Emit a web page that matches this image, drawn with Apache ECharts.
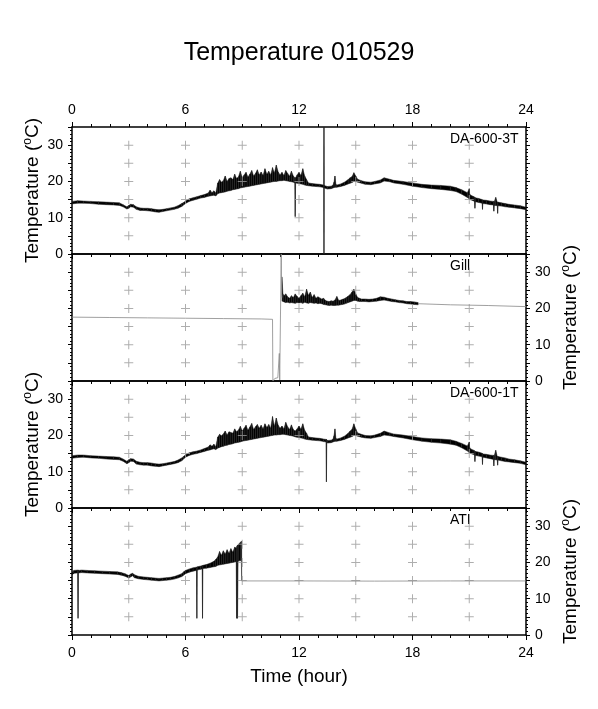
<!DOCTYPE html>
<html lang="en">
  <head>
    <meta charset="UTF-8" />
    <title>Temperature 010529</title>
    <script src="https://cdn.jsdelivr.net/npm/echarts@6/dist/echarts.min.js"></script>
    <style>
      html, body { margin: 0; background: #fff; }
    </style>
  </head>
  <body>
    <div id="main" style="width: 598px; height: 709px"></div>
    <script type="text/javascript">
      // axis ticks and grid crosses
      const hourTicks = [0, 6, 12, 18, 24];
      const tempTicks = [0, 10, 20, 30];
      const crossX = [3, 6, 9, 12, 15, 18, 21];
      const crossY = [5, 10, 15, 20, 25, 30];
      const panelNames = ["DA-600-3T", "Gill", "DA-600-1T", "ATI"];

      // DA-600-3T: time (hour), lower and upper edge of the noisy trace
      const da3T = [
        0, 0.3, 0.6, 1.0, 1.4, 1.8, 2.2, 2.5, 2.7, 2.9, 3.0, 3.1, 3.25, 3.4, 3.6, 3.8, 4.0, 4.2, 4.4, 4.6,
        4.8, 5.0, 5.2, 5.4, 5.6, 5.8, 5.9, 6.0, 6.2, 6.4, 6.6, 6.8, 7.0, 7.2, 7.3, 7.4, 7.5, 7.6,
        7.7, 7.8, 7.9, 8.0, 8.1, 8.2, 8.3, 8.4, 8.5, 8.6, 8.7, 8.8, 8.9, 9.0, 9.1, 9.2, 9.3, 9.4, 9.5, 9.6,
        9.7, 9.8, 9.9, 10.0, 10.1, 10.2, 10.3, 10.4, 10.5, 10.6, 10.7, 10.8, 10.9, 11.0, 11.1, 11.2, 11.3, 11.4, 11.5, 11.6,
        11.7, 11.78, 11.8, 11.82, 11.9, 12.0, 12.1, 12.2, 12.3, 12.4,
        12.5, 12.7, 12.9, 13.1, 13.3, 13.31, 13.32, 13.33, 13.5, 13.7, 13.8, 13.85, 13.9, 13.95, 14.0, 14.2, 14.4, 14.6, 14.7, 14.8,
        14.9, 15.0, 15.1, 15.3, 15.5, 15.8, 16.0, 16.3, 16.5, 16.8, 17.0, 17.5, 18.0, 18.5, 19.0, 19.5, 20.0, 20.3, 20.6,
        20.9, 21.0, 21.02, 21.04, 21.2, 21.28, 21.3, 21.32, 21.5, 21.68, 21.7, 21.72, 21.9, 22.1, 22.28, 22.3, 22.32, 22.4,
        22.48, 22.5, 22.52, 22.7, 22.9, 23.1, 23.4, 23.7, 24.0
      ];
      const da3Lo = [
        13.8, 14.0, 14.0, 13.9, 13.7, 13.6, 13.5, 13.4, 13.0, 12.4, 12.6, 13.0, 12.9, 12.3, 12.0, 12.0, 11.9, 11.8, 11.6, 11.5,
        11.7, 11.9, 12.1, 12.3, 12.6, 13.1, 13.5, 13.9, 14.5, 14.8, 15.1, 15.4, 15.6, 15.9, 16.0, 16.1, 16.2, 16.0,
        16.6, 16.8, 16.9, 17.0, 17.1, 17.3, 17.4, 17.5, 17.7, 17.8, 17.9, 18.0, 18.2, 18.3, 18.4, 18.5, 18.6, 18.7, 18.8, 18.9,
        19.0, 19.1, 19.2, 19.3, 19.4, 19.5, 19.6, 19.7, 19.8, 19.9, 20.0, 20.0, 20.1, 20.2, 20.2, 20.3, 20.2, 20.1, 20.0, 19.9,
        19.8, 19.6, 10.3, 19.6, 19.5, 19.4, 19.3, 19.2, 19.0, 18.9,
        18.8, 18.7, 18.6, 18.5, 18.3, 18.3, 0, 18.2, 17.9, 18.0, 18.2, 18.3, 18.4, 18.4, 18.4, 18.6, 18.9, 19.3, 19.5, 19.7,
        20.0, 20.0, 19.8, 19.5, 19.2, 19.1, 19.3, 19.6, 20.1, 19.9, 19.6, 19.2, 18.7, 18.3, 18.0, 17.8, 17.5, 17.2, 16.5,
        15.6, 15.2, 15.1, 15.0, 14.7, 14.5, 12.6, 14.4, 14.2, 14.0, 12.3, 13.9, 13.8, 13.6, 13.5, 11.8, 13.4, 13.4,
        13.3, 11.2, 13.3, 13.2, 13.0, 12.9, 12.7, 12.5, 12.2
      ];
      const da3Hi = [
        14.5, 14.7, 14.6, 14.5, 14.4, 14.3, 14.2, 14.1, 13.6, 13.0, 13.4, 13.7, 13.6, 13.0, 12.7, 12.6, 12.6, 12.5, 12.3, 12.2,
        12.3, 12.5, 12.7, 12.9, 13.3, 13.9, 14.2, 14.6, 15.2, 15.5, 15.8, 16.1, 16.4, 16.8, 17.6, 16.9, 17.4, 16.8,
        19.5, 20.5, 19.8, 20.2, 21.5, 20.0, 20.8, 21.0, 20.5, 22.0, 20.8, 21.3, 22.8, 21.0, 21.8, 22.5, 21.2, 22.0, 23.0, 21.5,
        22.2, 23.2, 21.8, 22.6, 21.6, 23.5, 22.0, 22.8, 21.8, 23.8, 22.3, 24.5, 22.6, 21.8, 22.5, 21.6, 23.0, 22.2, 21.4, 22.8,
        21.5, 21.0, 21.0, 21.0, 21.8, 22.5, 21.6, 23.5, 21.5, 20.5,
        19.6, 19.4, 19.3, 19.2, 19.0, 19.0, 35, 18.9, 18.6, 18.7, 19.0, 19.8, 21.5, 19.2, 19.0, 19.3, 19.8, 20.5, 21.0, 21.3,
        22.4, 21.5, 20.6, 20.2, 19.9, 19.8, 20.0, 20.4, 21.0, 20.6, 20.3, 20.0, 19.6, 19.2, 19.0, 18.9, 18.7, 18.3, 17.7,
        16.9, 18.0, 16.6, 16.3, 15.9, 15.7, 15.6, 15.5, 15.3, 15.0, 14.9, 14.9, 14.8, 14.6, 14.5, 14.5, 14.4, 15.6,
        14.3, 14.3, 14.3, 14.1, 13.9, 13.7, 13.5, 13.3, 12.9
      ];

      // Gill: flat early record, noisy middle, thin tail
      const gillFlatT = [0, 2, 4, 6, 8, 10, 10.6, 10.62, 10.66, 10.72, 10.8, 10.88, 10.94, 10.96, 10.98, 11.02, 11.06, 11.08, 11.1];
      const gillFlatV = [17.6, 17.5, 17.4, 17.3, 17.2, 17.1, 17.0, 0, 0.2, 0.7, 1.0, 0.9, 0.5, 7.6, 0.3, 0, 35, 24, 23];
      const gillT = [
        11.1, 11.15, 11.2, 11.3, 11.4, 11.5, 11.6, 11.7, 11.8, 11.9, 12.0, 12.1, 12.2, 12.3, 12.4, 12.5, 12.6, 12.7, 12.8, 12.9,
        13.0, 13.1, 13.2, 13.3, 13.4, 13.5, 13.6, 13.7, 13.8, 13.9, 14.0, 14.1, 14.2, 14.3, 14.4, 14.5, 14.6, 14.7, 14.8, 14.9,
        15.0, 15.1, 15.2, 15.3, 15.5, 15.7, 15.9, 16.1, 16.3, 16.5, 16.7, 16.9, 17.1, 17.3, 17.5, 17.7, 17.9, 18.1, 18.3
      ];
      const gillLo = [
        22.0, 22.0, 21.8, 21.6, 21.7, 21.5, 21.6, 21.5, 21.4, 21.6, 21.5, 21.6, 21.4, 21.7, 21.5, 21.4, 21.6, 21.5, 21.4, 21.5,
        21.3, 21.4, 21.3, 21.1, 21.0, 20.9, 20.8, 20.9, 20.8, 20.8, 20.9, 20.9, 21.0, 21.1, 21.2, 21.4, 21.6, 21.8, 22.0, 22.2,
        22.2, 22.0, 21.9, 21.9, 21.9, 21.8, 21.9, 22.0, 22.2, 22.3, 22.1, 21.9, 21.8, 21.6, 21.5, 21.3, 21.2, 21.1, 21.0
      ];
      const gillHi = [
        28.7, 24.0, 23.5, 24.0, 23.2, 22.8, 23.5, 23.0, 24.0, 23.3, 22.8, 23.5, 24.2, 23.2, 25.3, 23.6, 24.5, 23.0, 23.8, 22.8,
        23.2, 22.9, 22.6, 22.8, 22.2, 22.0, 21.9, 22.1, 22.0, 22.3, 23.3, 22.2, 22.3, 22.5, 22.7, 23.0, 23.4, 23.8, 24.5, 25.3,
        24.0, 23.0, 22.8, 22.6, 22.6, 22.5, 22.6, 22.8, 23.2, 23.1, 22.8, 22.6, 22.4, 22.2, 22.1, 21.9, 21.9, 21.8, 21.6
      ];
      const gillTailT = [18.3, 20, 22, 24];
      const gillTailV = [21.3, 21.0, 20.8, 20.5];

      // DA-600-1T
      const da1T = [
        0, 0.3, 0.6, 1.0, 1.4, 1.8, 2.2, 2.5, 2.7, 2.9, 3.0, 3.1, 3.25, 3.4, 3.6, 3.8, 4.0, 4.2, 4.4, 4.6,
        4.8, 5.0, 5.2, 5.4, 5.6, 5.8, 5.9, 6.0, 6.2, 6.4, 6.6, 6.8, 7.0, 7.2, 7.3, 7.4, 7.5, 7.6,
        7.7, 7.8, 7.9, 8.0, 8.1, 8.2, 8.3, 8.4, 8.5, 8.6, 8.7, 8.8, 8.9, 9.0, 9.1, 9.2, 9.3, 9.4, 9.5, 9.6,
        9.7, 9.8, 9.9, 10.0, 10.1, 10.2, 10.3, 10.4, 10.5, 10.6, 10.7, 10.8, 10.9, 11.0, 11.1, 11.2, 11.3, 11.4, 11.5, 11.6,
        11.7, 11.8, 11.9, 12.0, 12.1, 12.2, 12.3, 12.4,
        12.5, 12.7, 12.9, 13.1, 13.3, 13.43, 13.45, 13.47, 13.5, 13.7, 13.8, 13.85, 13.9, 13.95, 14.0, 14.2, 14.4, 14.6, 14.7, 14.8,
        14.9, 15.0, 15.1, 15.3, 15.5, 15.8, 16.0, 16.3, 16.5, 16.8, 17.0, 17.5, 18.0, 18.5, 19.0, 19.5, 20.0, 20.3, 20.6,
        20.9, 21.0, 21.02, 21.04, 21.2, 21.28, 21.3, 21.32, 21.5, 21.68, 21.7, 21.72, 21.9, 22.1, 22.28, 22.3, 22.32, 22.4,
        22.48, 22.5, 22.52, 22.7, 22.9, 23.1, 23.4, 23.7, 24.0
      ];
      const da1Lo = [
        13.7, 13.9, 14.0, 13.8, 13.7, 13.5, 13.4, 13.3, 12.9, 12.2, 12.5, 12.9, 12.8, 12.1, 11.9, 11.8, 11.8, 11.6, 11.5, 11.4,
        11.6, 11.8, 12.0, 12.2, 12.5, 13.0, 13.5, 14.0, 14.5, 14.8, 15.0, 15.3, 15.6, 15.9, 16.0, 16.2, 16.3, 16.1,
        16.5, 16.7, 16.9, 17.0, 17.2, 17.3, 17.5, 17.6, 17.7, 17.9, 18.0, 18.1, 18.2, 18.4, 18.5, 18.6, 18.7, 18.8, 18.9, 19.0,
        19.1, 19.2, 19.3, 19.4, 19.5, 19.6, 19.7, 19.8, 19.9, 20.0, 20.1, 20.1, 20.2, 20.2, 20.3, 20.3, 20.2, 20.1, 20.0, 19.9,
        19.8, 19.6, 19.5, 19.4, 19.3, 19.2, 19.0, 18.9,
        18.8, 18.7, 18.6, 18.5, 18.3, 18.2, 7.2, 18.1, 17.9, 18.0, 18.2, 18.3, 18.4, 18.4, 18.4, 18.6, 18.9, 19.3, 19.5, 19.7,
        20.0, 20.0, 19.8, 19.5, 19.3, 19.2, 19.4, 19.7, 20.1, 19.9, 19.7, 19.3, 18.8, 18.4, 18.1, 17.9, 17.6, 17.3, 16.6,
        15.7, 15.3, 15.2, 15.1, 14.8, 14.6, 12.8, 14.5, 14.3, 14.1, 12.0, 14.0, 13.8, 13.6, 13.4, 11.6, 13.3, 13.3,
        13.2, 11.8, 13.2, 13.0, 12.8, 12.7, 12.5, 12.3, 11.9
      ];
      const da1Hi = [
        14.4, 14.6, 14.6, 14.4, 14.3, 14.2, 14.1, 14.0, 13.5, 12.9, 13.3, 13.6, 13.5, 12.9, 12.6, 12.5, 12.5, 12.4, 12.2, 12.1,
        12.2, 12.4, 12.6, 12.8, 13.2, 13.8, 14.2, 14.7, 15.2, 15.5, 15.7, 16.0, 16.4, 16.8, 17.4, 17.0, 17.6, 16.9,
        19.5, 20.3, 19.9, 20.4, 21.2, 20.1, 21.0, 20.8, 20.6, 21.8, 21.0, 21.5, 22.5, 21.2, 22.0, 22.8, 21.4, 22.3, 23.3, 21.6,
        22.4, 23.0, 22.0, 22.8, 21.8, 23.2, 22.2, 23.0, 22.0, 25.2, 22.5, 24.8, 22.8, 22.0, 22.6, 21.8, 23.6, 22.4, 21.6, 22.9,
        21.6, 21.2, 21.8, 22.6, 21.7, 23.2, 21.4, 20.6,
        19.6, 19.4, 19.3, 19.2, 19.0, 18.9, 18.9, 18.8, 18.6, 18.7, 19.0, 19.9, 21.8, 19.2, 19.0, 19.3, 19.8, 20.6, 21.2, 21.6,
        23.2, 21.8, 20.7, 20.3, 20.0, 19.9, 20.1, 20.6, 21.2, 20.7, 20.4, 20.1, 19.7, 19.3, 19.1, 19.0, 18.8, 18.4, 17.8,
        17.1, 18.2, 16.7, 16.4, 16.0, 15.8, 15.7, 15.6, 15.4, 15.1, 15.0, 14.9, 14.8, 14.6, 14.5, 14.5, 14.4, 15.9,
        14.2, 14.2, 14.2, 14.0, 13.8, 13.5, 13.3, 13.0, 12.6
      ];

      // ATI: record until ~9 h, then a flat value
      const atiT = [
        0, 0.1, 0.3, 0.32, 0.34, 0.36, 0.5, 0.8, 1.2, 1.6, 2.0, 2.4, 2.6, 2.8, 3.0, 3.1, 3.2, 3.3, 3.5, 3.8,
        4.0, 4.2, 4.4, 4.6, 4.8, 5.0, 5.2, 5.4, 5.6, 5.8, 5.9, 6.0, 6.2, 6.4, 6.58, 6.6, 6.62, 6.8, 6.88, 6.9,
        6.92, 7.1, 7.3, 7.5, 7.6, 7.7, 7.8, 7.9, 8.0, 8.1, 8.2, 8.3, 8.4, 8.5, 8.6, 8.68, 8.7, 8.72, 8.75, 8.78,
        8.8, 8.9, 8.95, 8.97
      ];
      const atiLo = [
        16.5, 17.0, 17.1, 4.6, 17.1, 17.1, 17.2, 17.1, 17.0, 16.9, 16.8, 16.7, 16.5, 16.2, 15.7, 16.0, 16.3, 15.8, 15.5, 15.3,
        15.2, 15.1, 15.0, 14.9, 15.0, 15.1, 15.2, 15.4, 15.7, 16.1, 16.5, 16.9, 17.3, 17.6, 17.8, 4.6, 17.9, 18.1, 18.2, 4.6,
        18.3, 18.4, 18.6, 18.8, 18.9, 19.2, 19.3, 19.4, 19.5, 19.6, 19.7, 19.8, 19.9, 20.0, 20.1, 20.2, 4.6, 20.3, 4.6, 20.3,
        20.4, 20.5, 20.6, 14.9
      ];
      const atiHi = [
        17.3, 17.8, 17.9, 17.9, 17.9, 17.8, 17.9, 17.8, 17.7, 17.6, 17.5, 17.4, 17.2, 16.9, 16.4, 16.8, 17.0, 16.6, 16.2, 16.0,
        15.9, 15.8, 15.7, 15.6, 15.7, 15.8, 15.9, 16.1, 16.5, 16.9, 17.4, 17.8, 18.2, 18.5, 18.7, 18.7, 18.8, 19.0, 19.1, 19.1,
        19.2, 19.4, 19.8, 20.3, 20.8, 21.5, 23.0, 22.0, 23.2, 22.3, 23.5, 22.5, 23.8, 22.8, 24.2, 24.0, 24.0, 24.5, 24.8, 24.5,
        25.0, 25.5, 25.8, 25.8
      ];
      const atiTailT = [8.97, 12, 16, 20, 24];
      const atiTailV = [14.9, 14.9, 14.85, 14.9, 14.9];

      const font = "'Liberation Sans', Helvetica, Arial, sans-serif";
      const tops = [127, 254, 381, 508];
      const panelH = 127;

      // one quad per segment between two samples of the lower/upper edge
      function bandData(t, lo, hi) {
        const out = [];
        const n = Math.min(t.length, lo.length, hi.length);
        for (let i = 0; i < n - 1; i++) {
          out.push([t[i], lo[i], hi[i], t[i + 1], lo[i + 1], hi[i + 1]]);
        }
        return out;
      }
      function renderBand(params, api) {
        const a = api.coord([api.value(0), api.value(2)]);
        const b = api.coord([api.value(3), api.value(5)]);
        const c = api.coord([api.value(3), api.value(4)]);
        const d = api.coord([api.value(0), api.value(1)]);
        return {
          type: "polygon",
          shape: { points: [a, b, c, d] },
          style: { fill: "#000", stroke: "#222", lineWidth: 0.5 },
        };
      }
      function band(grid, t, lo, hi) {
        return {
          type: "custom",
          xAxisIndex: grid * 2,
          yAxisIndex: grid * 2,
          renderItem: renderBand,
          data: bandData(t, lo, hi),
          encode: { x: [0, 3], y: [1, 2, 4, 5] },
          clip: true,
          silent: true,
          animation: false,
        };
      }
      function thinLine(grid, t, v) {
        return {
          type: "line",
          xAxisIndex: grid * 2,
          yAxisIndex: grid * 2,
          data: t.map((x, i) => [x, v[i]]),
          showSymbol: false,
          lineStyle: { color: "#888", width: 0.8 },
          silent: true,
          animation: false,
        };
      }

      const crossData = [];
      for (const x of crossX) for (const y of crossY) crossData.push([x, y]);

      const grids = [];
      const xAxes = [];
      const yAxes = [];
      const series = [];
      const tempName = "Temperature ({sup|o}C)";

      for (let i = 0; i < 4; i++) {
        grids.push({ left: 72, right: 72, top: tops[i], height: panelH, outerBoundsMode: "none" });

        ["bottom", "top"].forEach((pos) => {
          const labelled = (pos === "top" && i === 0) || (pos === "bottom" && i === 3);
          const ticks = pos === "bottom" || i === 0;
          xAxes.push({
            type: "value",
            gridIndex: i,
            position: pos,
            min: 0,
            max: 24,
            interval: 6,
            axisLine: { show: true, onZero: false, lineStyle: { color: "#000", width: 1.5 } },
            axisTick: { show: ticks, length: 5, lineStyle: { color: "#000", width: 1 } },
            minorTick: { show: ticks, splitNumber: 6, length: 3, lineStyle: { color: "#000", width: 1 } },
            splitLine: { show: false },
            axisLabel: {
              show: labelled,
              color: "#000",
              fontSize: 14,
              fontFamily: font,
              margin: pos === "top" ? 10 : 11,
              formatter: (v) => (hourTicks.includes(v) ? String(v) : ""),
            },
            name: pos === "bottom" && i === 3 ? "Time (hour)" : "",
            nameLocation: "middle",
            nameGap: 32,
            nameTextStyle: { color: "#000", fontSize: 19, fontFamily: font },
          });
        });

        ["left", "right"].forEach((pos) => {
          const labelled = (pos === "left") === (i % 2 === 0);
          yAxes.push({
            type: "value",
            gridIndex: i,
            position: pos,
            min: 0,
            max: 35,
            interval: 5,
            axisLine: { show: true, onZero: false, lineStyle: { color: "#000", width: 1.5 } },
            axisTick: { show: true, length: 4, lineStyle: { color: "#000", width: 1 } },
            minorTick: { show: true, splitNumber: 5, length: 2, lineStyle: { color: "#000", width: 1 } },
            splitLine: { show: false },
            axisLabel: {
              show: labelled,
              color: "#000",
              fontSize: 14,
              fontFamily: font,
              margin: 9,
              showMaxLabel: false,
              formatter: (v) => (tempTicks.includes(v) ? String(v) : ""),
            },
            name: labelled ? tempName : "",
            nameLocation: "middle",
            nameRotate: 90,
            nameMoveOverlap: false,
            nameGap: pos === "left" ? 29 : 34,
            nameTextStyle: {
              color: "#000",
              fontSize: 19,
              fontFamily: font,
              rich: { sup: { fontSize: 12, fontFamily: font, color: "#000", padding: [0, 0, 9, 0] } },
            },
          });
        });

        series.push({
          type: "scatter",
          xAxisIndex: i * 2,
          yAxisIndex: i * 2,
          data: crossData,
          symbol: "path://M4,0h1v9h-1zM0,4h9v1h-9z",
          symbolSize: 9,
          itemStyle: { color: "#9a9a9a" },
          silent: true,
          animation: false,
        });
      }

      series.push(band(0, da3T, da3Lo, da3Hi));
      series.push(thinLine(1, gillFlatT, gillFlatV));
      series.push(band(1, gillT, gillLo, gillHi));
      series.push(thinLine(1, gillTailT, gillTailV));
      series.push(band(2, da1T, da1Lo, da1Hi));
      series.push(thinLine(3, atiTailT, atiTailV));
      series.push(band(3, atiT, atiLo, atiHi));

      const options = {
        backgroundColor: "#fff",
        animation: false,
        title: {
          text: "Temperature 010529",
          left: "center",
          top: 36,
          textStyle: { color: "#000", fontSize: 25, fontWeight: "normal", fontFamily: font },
        },
        grid: grids,
        xAxis: xAxes,
        yAxis: yAxes,
        series: series,
        graphic: panelNames.map((n, i) => ({
          type: "text",
          left: 450,
          top: tops[i] + 5,
          style: { text: n, fill: "#000", fontSize: 14, fontFamily: font },
          silent: true,
        })),
      };

      let myChart = echarts.init(document.getElementById("main"));
      myChart.setOption(options);
    </script>
  </body>
</html>
